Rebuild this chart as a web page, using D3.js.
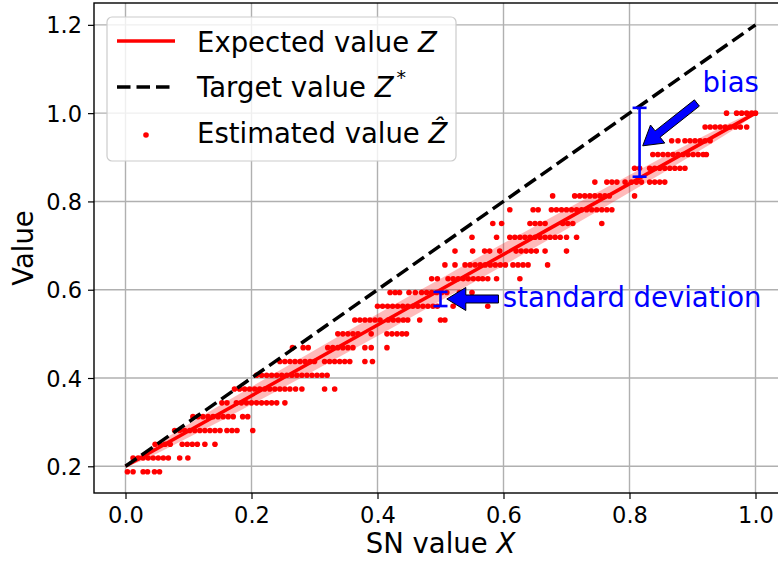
<!DOCTYPE html>
<html>
<head>
<meta charset="utf-8">
<script src="https://cdn.jsdelivr.net/npm/d3@7"></script>
<style>
  body { margin: 0; background: #fff; }
  svg { display: block; font-family: "DejaVu Sans", sans-serif; }
</style>
</head>
<body>
<div id="chart"></div>
<script>
// axis ticks
const xTicks = [0, 0.2, 0.4, 0.6, 0.8, 1.0];
const yTicks = [0.2, 0.4, 0.6, 0.8, 1.0, 1.2];

// expected value Z and target value Z*
const lineX = [0, 1];
const expectedZ = [0.2, 1.0];
const targetZ = [0.2, 1.2];

// standard deviation band around Z
const bandX = [0, 0.02, 0.05, 0.1, 0.2, 0.3, 0.4, 0.5, 0.6, 0.7, 0.8, 0.9, 0.95, 0.98, 1];
const bandStd = [0, 0.007, 0.011, 0.015, 0.02, 0.023, 0.025, 0.025, 0.025, 0.023, 0.02, 0.015, 0.011, 0.007, 0];

// estimated values: one level per row, x positions of the dots on that row
const estLevels = [0.1875, 0.21875, 0.25, 0.28125, 0.3125, 0.34375, 0.375, 0.40625, 0.4375,
  0.46875, 0.5, 0.53125, 0.5625, 0.59375, 0.625, 0.65625, 0.6875, 0.71875, 0.75,
  0.78125, 0.8125, 0.84375, 0.875, 0.90625, 0.9375, 0.96875, 1.0];
const estX = [
  [0.003, 0.012, 0.028, 0.035, 0.046, 0.054],
  [0.012, 0.02, 0.028, 0.036, 0.044, 0.052, 0.06, 0.068, 0.086, 0.099],
  [0.047, 0.055, 0.063, 0.071, 0.09, 0.098, 0.106, 0.114, 0.126, 0.142],
  [0.078, 0.086, 0.094, 0.102, 0.11, 0.118, 0.126, 0.134, 0.142, 0.15, 0.161, 0.169, 0.177, 0.202],
  [0.107, 0.115, 0.123, 0.131, 0.139, 0.147, 0.155, 0.163, 0.171, 0.186, 0.194],
  [0.153, 0.161, 0.176, 0.184, 0.192, 0.2, 0.208, 0.216, 0.224, 0.232, 0.24, 0.253],
  [0.173, 0.181, 0.189, 0.197, 0.205, 0.213, 0.221, 0.229, 0.237, 0.245, 0.253, 0.261, 0.27, 0.28, 0.316, 0.332],
  [0.208, 0.216, 0.224, 0.232, 0.24, 0.248, 0.256, 0.264, 0.272, 0.28, 0.288, 0.296, 0.304, 0.312, 0.32],
  [0.245, 0.253, 0.261, 0.269, 0.277, 0.285, 0.293, 0.3, 0.316, 0.324, 0.332, 0.34, 0.348, 0.356, 0.38, 0.392],
  [0.265, 0.282, 0.29, 0.321, 0.329, 0.337, 0.345, 0.353, 0.361, 0.38, 0.39, 0.415],
  [0.337, 0.345, 0.353, 0.361, 0.369, 0.39, 0.415, 0.423, 0.431, 0.439, 0.446],
  [0.364, 0.372, 0.38, 0.388, 0.396, 0.404, 0.417, 0.425, 0.433, 0.441, 0.448, 0.467, 0.5, 0.507],
  [0.4, 0.408, 0.416, 0.424, 0.432, 0.44, 0.448, 0.456, 0.464, 0.472, 0.48, 0.488, 0.495, 0.52, 0.575],
  [0.42, 0.428, 0.435, 0.45, 0.46, 0.47, 0.478, 0.486, 0.494, 0.502, 0.51, 0.53, 0.55],
  [0.486, 0.495, 0.512, 0.52, 0.528, 0.536, 0.544, 0.552, 0.56, 0.567, 0.575, 0.589, 0.626],
  [0.507, 0.523, 0.539, 0.547, 0.555, 0.563, 0.571, 0.579, 0.587, 0.595, 0.603, 0.615, 0.623, 0.631, 0.639, 0.67],
  [0.523, 0.551, 0.57, 0.578, 0.594, 0.62, 0.628, 0.636, 0.644, 0.652, 0.666, 0.7],
  [0.55, 0.589, 0.61, 0.618, 0.626, 0.634, 0.642, 0.65, 0.658, 0.666, 0.674, 0.682, 0.69, 0.7, 0.716],
  [0.583, 0.597, 0.642, 0.65, 0.658, 0.666, 0.694, 0.702, 0.71, 0.756],
  [0.61, 0.647, 0.655, 0.676, 0.684, 0.692, 0.7, 0.708, 0.716, 0.724, 0.732, 0.74, 0.748, 0.756, 0.764, 0.772],
  [0.678, 0.713, 0.721, 0.729, 0.737, 0.745, 0.753, 0.761, 0.768, 0.808],
  [0.745, 0.764, 0.772, 0.78, 0.793, 0.803, 0.811, 0.819, 0.832, 0.84, 0.848, 0.856],
  [0.808, 0.816, 0.832, 0.84, 0.848, 0.856, 0.864, 0.872, 0.88, 0.888],
  [0.837, 0.845, 0.853, 0.861, 0.869, 0.877, 0.885, 0.893, 0.901, 0.909, 0.917, 0.922],
  [0.867, 0.877, 0.888, 0.896, 0.904, 0.912, 0.92, 0.928],
  [0.92, 0.928, 0.936, 0.944, 0.952, 0.96, 0.968, 0.976, 0.986],
  [0.954, 0.97, 0.978, 0.986, 0.994, 1.0]
];

// annotations (data units)
const biasX = 0.816, biasRange = [0.856, 1.012];
const sdX = 0.5, sdRange = [0.563, 0.595];
const biasArrow = [[0.907, 1.023], [0.821, 0.926]];
const sdArrow = [[0.592, 0.579], [0.51, 0.579]];
const biasLabel = [0.916, 1.048];
const sdLabel = [0.599, 0.5616];

const width = 778, height = 563;
const mLeft = 94, mRight = 787, mTop = 3, mBottom = 493;

const svg = d3.select("#chart").append("svg")
  .attr("width", width)
  .attr("height", height);

const x = d3.scaleLinear().domain([-0.05, 1.05]).range([mLeft, mRight]);
const y = d3.scaleLinear().domain([0.1395, 1.2495]).range([mBottom, mTop]);

svg.append("defs").append("clipPath").attr("id", "plotClip")
  .append("rect").attr("x", mLeft).attr("y", mTop)
  .attr("width", mRight - mLeft).attr("height", mBottom - mTop);

// grid
const grid = svg.append("g").attr("stroke", "#b0b0b0").attr("stroke-width", 1.4);
grid.selectAll(".gx").data(xTicks).enter().append("line")
  .attr("x1", d => x(d)).attr("x2", d => x(d))
  .attr("y1", mTop).attr("y2", mBottom);
grid.selectAll(".gy").data(yTicks).enter().append("line")
  .attr("x1", mLeft).attr("x2", mRight)
  .attr("y1", d => y(d)).attr("y2", d => y(d));

const plot = svg.append("g").attr("clip-path", "url(#plotClip)");

// std band
const bandData = bandX.map((v, i) => ({ x: v, z: expectedZ[0] + (expectedZ[1] - expectedZ[0]) * v, s: bandStd[i] }));
plot.append("path")
  .datum(bandData)
  .attr("fill", "rgba(255,0,0,0.27)")
  .attr("d", d3.area()
    .curve(d3.curveMonotoneX)
    .x(d => x(d.x))
    .y0(d => y(d.z - d.s))
    .y1(d => y(d.z + d.s)));

// estimated values
const points = [];
estLevels.forEach((lv, i) => estX[i].forEach(v => points.push({ x: v, y: lv })));
plot.selectAll("circle.est").data(points).enter().append("circle")
  .attr("class", "est")
  .attr("cx", d => x(d.x))
  .attr("cy", d => y(d.y))
  .attr("r", 2.8)
  .attr("fill", "#ff0000");

// lines
const line = d3.line().x(d => x(d[0])).y(d => y(d[1]));
plot.append("path")
  .datum(lineX.map((v, i) => [v, expectedZ[i]]))
  .attr("fill", "none").attr("stroke", "#ff0000").attr("stroke-width", 3.5)
  .attr("d", line);
plot.append("path")
  .datum(lineX.map((v, i) => [v, targetZ[i]]))
  .attr("fill", "none").attr("stroke", "#000").attr("stroke-width", 3.5)
  .attr("stroke-dasharray", "13.5,6")
  .attr("d", line);

// error bars
function errBar(xv, range) {
  const g = plot.append("g").attr("stroke", "#0000ff").attr("stroke-width", 2.6);
  g.append("line").attr("x1", x(xv)).attr("x2", x(xv)).attr("y1", y(range[0])).attr("y2", y(range[1]));
  range.forEach(r => g.append("line")
    .attr("x1", x(xv) - 7).attr("x2", x(xv) + 7)
    .attr("y1", y(r)).attr("y2", y(r)));
}
errBar(biasX, biasRange);
errBar(sdX, sdRange);

// block arrows
function arrow(pts) {
  const x0 = x(pts[0][0]), y0 = y(pts[0][1]), x1 = x(pts[1][0]), y1 = y(pts[1][1]);
  const len = Math.hypot(x1 - x0, y1 - y0);
  const ux = (x1 - x0) / len, uy = (y1 - y0) / len, nx = -uy, ny = ux;
  const sw = 4, hw = 11.5, hl = 19;
  const bx = x1 - ux * hl, by = y1 - uy * hl;
  const poly = [
    [x0 + nx * sw, y0 + ny * sw], [bx + nx * sw, by + ny * sw], [bx + nx * hw, by + ny * hw],
    [x1, y1],
    [bx - nx * hw, by - ny * hw], [bx - nx * sw, by - ny * sw], [x0 - nx * sw, y0 - ny * sw]
  ];
  svg.append("polygon")
    .attr("points", poly.map(p => p.join(",")).join(" "))
    .attr("fill", "#0000ff").attr("stroke", "#000").attr("stroke-width", 1);
}
arrow(biasArrow);
arrow(sdArrow);

svg.append("text").attr("x", x(biasLabel[0])).attr("y", y(biasLabel[1]))
  .attr("font-size", "27.5px").attr("fill", "#0000ff").text("bias");
svg.append("text").attr("x", x(sdLabel[0])).attr("y", y(sdLabel[1]))
  .attr("font-size", "27.5px").attr("fill", "#0000ff").text("standard deviation");

// axes
const xAxis = svg.append("g").attr("transform", `translate(0,${mBottom})`)
  .call(d3.axisBottom(x).tickValues(xTicks).tickFormat(d3.format(".1f")).tickSize(6).tickPadding(8));
const yAxis = svg.append("g").attr("transform", `translate(${mLeft},0)`)
  .call(d3.axisLeft(y).tickValues(yTicks).tickFormat(d3.format(".1f")).tickSize(6).tickPadding(6));
[xAxis, yAxis].forEach(a => {
  a.select(".domain").remove();
  a.selectAll("line").attr("stroke", "#000").attr("stroke-width", 1.2);
  a.selectAll("text").attr("font-size", "22.5px").attr("fill", "#000")
    .attr("font-family", "DejaVu Sans");
});
yAxis.selectAll("text").attr("dy", "0.36em");

svg.append("rect").attr("x", mLeft).attr("y", mTop)
  .attr("width", mRight - mLeft).attr("height", mBottom - mTop)
  .attr("fill", "none").attr("stroke", "#000").attr("stroke-width", 1.4);

// axis labels
const xl = svg.append("text").attr("x", (mLeft + mRight) / 2).attr("y", 553)
  .attr("text-anchor", "middle").attr("font-size", "27.5px");
xl.append("tspan").text("SN value ");
xl.append("tspan").attr("font-style", "italic").text("X");
svg.append("text")
  .attr("transform", `translate(33,${(mTop + mBottom) / 2}) rotate(-90)`)
  .attr("text-anchor", "middle").attr("font-size", "27.5px").text("Value");

// legend
const lg = svg.append("g");
lg.append("rect").attr("x", 107).attr("y", 17).attr("width", 349).attr("height", 144)
  .attr("rx", 5).attr("fill", "rgba(255,255,255,0.8)").attr("stroke", "#cccccc").attr("stroke-width", 1.2);
lg.append("line").attr("x1", 117).attr("x2", 175).attr("y1", 41).attr("y2", 41)
  .attr("stroke", "#ff0000").attr("stroke-width", 3.5);
lg.append("line").attr("x1", 117).attr("x2", 175).attr("y1", 87).attr("y2", 87)
  .attr("stroke", "#000").attr("stroke-width", 3.5).attr("stroke-dasharray", "13.5,6");
lg.append("circle").attr("cx", 146).attr("cy", 135).attr("r", 2.8).attr("fill", "#ff0000");
const t1 = lg.append("text").attr("x", 197).attr("y", 51.5).attr("font-size", "27.5px");
t1.append("tspan").text("Expected value ");
t1.append("tspan").attr("font-style", "italic").text("Z");
const t2 = lg.append("text").attr("x", 197).attr("y", 97).attr("font-size", "27.5px");
t2.append("tspan").text("Target value ");
t2.append("tspan").attr("font-style", "italic").text("Z");
t2.append("tspan").attr("font-size", "19px").attr("dy", -13).attr("dx", 3).text("*");
const t3 = lg.append("text").attr("x", 197).attr("y", 143).attr("font-size", "27.5px");
t3.append("tspan").text("Estimated value ");
t3.append("tspan").attr("font-style", "italic").text("\u1E90");
</script>
</body>
</html>
